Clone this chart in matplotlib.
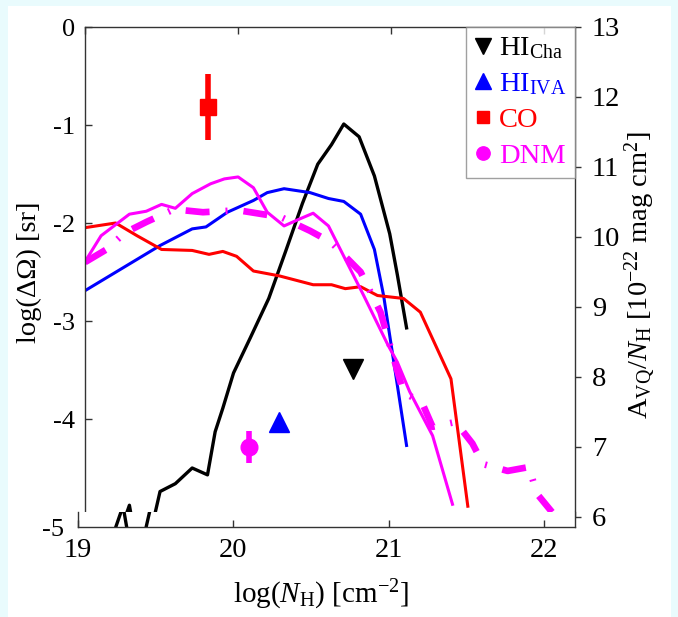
import matplotlib
matplotlib.use("Agg")
import matplotlib.pyplot as plt
from matplotlib.lines import Line2D
from matplotlib.patches import Rectangle

plt.rcParams['font.family'] = ['Liberation Serif', 'DejaVu Serif']
plt.rcParams['mathtext.fontset'] = 'custom'
plt.rcParams['mathtext.rm'] = 'Liberation Serif'
plt.rcParams['mathtext.it'] = 'Liberation Serif:italic'
plt.rcParams['mathtext.bf'] = 'Liberation Serif:bold'

# ---------------- data ----------------
# log(Delta Omega) curves vs log(N_H)
hi_cha_x = [19.23, 19.29, 19.32, 19.43, 19.49, 19.59, 19.70, 19.80, 19.85, 19.90, 19.97,
            20.08, 20.20, 20.31, 20.42, 20.52, 20.61, 20.69, 20.79, 20.89, 20.99, 21.04, 21.10]
hi_cha_y = [-5.15, -4.88, -5.15, -5.15, -4.74, -4.66, -4.50, -4.57, -4.13, -3.89, -3.53,
            -3.17, -2.77, -2.29, -1.80, -1.40, -1.20, -0.99, -1.12, -1.52, -2.11, -2.53, -3.07]

hi_iva_x = [18.99, 19.49, 19.70, 19.79, 19.93, 20.10, 20.19, 20.30, 20.47, 20.59, 20.69,
            20.80, 20.89, 20.95, 21.10]
hi_iva_y = [-2.70, -2.23, -2.06, -2.04, -1.89, -1.77, -1.69, -1.65, -1.69, -1.75, -1.78,
            -1.91, -2.27, -2.74, -4.27]

co_x = [18.99, 19.20, 19.34, 19.50, 19.70, 19.81, 19.90, 19.99, 20.10, 20.27, 20.49, 20.61,
        20.70, 20.80, 20.91, 21.08, 21.19, 21.39, 21.50]
co_y = [-2.05, -2.00, -2.13, -2.27, -2.28, -2.32, -2.29, -2.34, -2.49, -2.54, -2.63, -2.63,
        -2.67, -2.65, -2.74, -2.77, -2.91, -3.59, -4.89]

dnm_x = [18.99, 19.105, 19.29, 19.40, 19.50, 19.59, 19.70, 19.82, 19.91, 20.00, 20.10, 20.19,
         20.30, 20.40, 20.49, 20.59, 20.70, 20.82, 20.98, 21.04, 21.12, 21.27, 21.40]
dnm_y = [-2.42, -2.13, -1.91, -1.88, -1.81, -1.85, -1.70, -1.60, -1.55, -1.53, -1.64, -1.89,
         -2.03, -1.96, -1.90, -2.03, -2.37, -2.74, -3.25, -3.42, -3.72, -4.17, -4.87]

dnm2_x = [19.00, 19.14, 19.26, 19.40, 19.58, 19.77, 20.00, 20.28, 20.47, 20.61, 20.80, 20.93,
          21.08, 21.20, 21.27, 21.42, 21.53, 21.60, 21.76, 21.90, 21.95, 22.05]
dnm2_y = [-2.40, -2.27, -2.10, -1.99, -1.86, -1.89, -1.87, -1.94, -2.08, -2.20, -2.50, -2.91,
          -3.73, -3.83, -4.08, -4.03, -4.25, -4.46, -4.53, -4.49, -4.76, -4.95]

# A_VQ/N_H points (right axis)
pt_names = ['HI$_\\mathrm{Cha}$', 'HI$_\\mathrm{IVA}$', 'CO', 'DNM']
pt_x = [20.75, 20.27, 19.80, 20.07]
pt_y = [8.11, 7.36, 11.86, 7.00]
pt_err = [0.06, 0.05, 0.47, 0.23]
pt_marker = ['v', '^', 's', 'o']
pt_size = [15, 15, 11, 12]
colors = ['black', '#0000ff', '#ff0000', '#ff00ff']

x_ticks = [19, 20, 21, 22]
left_ticks = [0, -1, -2, -3, -4, -5]
right_ticks = [6, 7, 8, 9, 10, 11, 12, 13]

FS = 20.5

# ---------------- figure ----------------
W, H = 678, 617
fig = plt.figure(figsize=(W / 100, H / 100), dpi=100)
fig.patch.set_facecolor('#e9fbfd')
fig.patches.append(Rectangle((8 / W, 0), (671 - 8) / W, 1 - 6 / H,
                             transform=fig.transFigure, facecolor='white',
                             edgecolor='none', zorder=-10))

def fx(px):
    return px / W

def fy(py):
    return 1 - py / H

main = fig.add_axes([fx(85), fy(517), 490 / W, 490 / H])
main.set_zorder(0)
main.set_xlim(19, 22.2)
main.set_ylim(-5, 0)
main.patch.set_alpha(0)

def draw_curves(ax):
    ax.plot(hi_cha_x, hi_cha_y, color='black', lw=2.4)
    ax.plot(hi_iva_x, hi_iva_y, color='#0000ff', lw=2.2)
    ax.plot(co_x, co_y, color='#ff0000', lw=2.2)
    ax.plot(dnm_x, dnm_y, color='#ff00ff', lw=2.2)
    ax.plot(dnm2_x, dnm2_y, color='#ff00ff', lw=4.8,
            ls=(0, (3.6, 2.4, 0.3, 2.4)), dash_capstyle='butt')

draw_curves(main)

tick_col = '#333333'
for s in ['left', 'top', 'right']:
    main.spines[s].set_color(tick_col)
    main.spines[s].set_linewidth(1.0)
main.spines['bottom'].set_visible(False)
main.set_yticks(left_ticks)
main.set_yticklabels([str(t) if t != -5 else '' for t in left_ticks])
main.set_xticks(x_ticks)
main.tick_params(axis='y', direction='in', length=5, width=1, color=tick_col,
                 left=True, right=True, labelsize=19, pad=7)
main.tick_params(axis='x', direction='in', length=5, width=1, color=tick_col,
                 top=True, bottom=False, labelbottom=False, labeltop=False)
main.set_ylabel('log(ΔΩ) [sr]', fontsize=FS)
main.yaxis.set_label_coords(-0.114, 0.5)
main.yaxis.label.set_va('center')

twin = main.twinx()
twin.set_zorder(0.5)
twin.set_ylim(6, 13)
twin.set_yticks(right_ticks)
twin.tick_params(axis='y', direction='out', length=4, width=1, color=tick_col,
                 labelsize=FS, pad=8)
for s in ['left', 'top', 'right', 'bottom']:
    twin.spines[s].set_visible(False)
twin.set_ylabel('$\\mathrm{A_{VQ}}/N_\\mathrm{H}$ [10$^{-22}$ mag cm$^{2}$]', fontsize=FS,
                rotation=90)
twin.yaxis.set_label_coords(1.133, 0.494)
twin.yaxis.label.set_va('center')

handles = []
for name, x, y, e, m, ms, c in zip(pt_names, pt_x, pt_y, pt_err, pt_marker, pt_size, colors):
    twin.errorbar([x], [y], yerr=[e], fmt=m, ms=ms, color=c, mec=c, mfc=c,
                  elinewidth=4, capsize=0)
    handles.append(Line2D([], [], ls='none', marker=m, color=c, ms=ms * 0.8, label=name))

leg = twin.legend(handles=handles, loc='upper right', bbox_to_anchor=(1.0, 1.0),
                  borderaxespad=0, fontsize=FS, frameon=True, fancybox=False,
                  handlelength=0.6, handletextpad=0.25, labelspacing=0.35,
                  borderpad=0.3)
leg.get_frame().set_edgecolor('#888888')
leg.get_frame().set_linewidth(1.0)
for t, c in zip(leg.get_texts(), colors):
    t.set_color(c)

# lower strip with the x axis
strip = fig.add_axes([fx(78), fy(527), 497 / W, 15 / H])
strip.set_zorder(2)
strip.set_facecolor('white')
strip.set_xlim(19, 22.2)
strip.set_ylim(-5.09, -4.94)
draw_curves(strip)
strip.spines['top'].set_visible(False)
for s in ['left', 'right', 'bottom']:
    strip.spines[s].set_color(tick_col)
    strip.spines[s].set_linewidth(1.0)
strip.set_xticks(x_ticks)
strip.set_xticklabels([str(t) for t in x_ticks])
strip.tick_params(axis='x', direction='in', length=5, width=1, color=tick_col,
                  labelsize=FS, pad=8)
strip.set_yticks([-5.09])
strip.set_yticklabels(['-5'])
strip.tick_params(axis='y', length=0, labelsize=19, pad=10)
strip.set_xlabel('log($N_\\mathrm{H}$) [cm$^{-2}$]', fontsize=21)
strip.xaxis.set_label_coords(0.49, -3.4)
strip.xaxis.label.set_va('top')

fig.savefig('out.png', dpi=100, facecolor=fig.get_facecolor())
